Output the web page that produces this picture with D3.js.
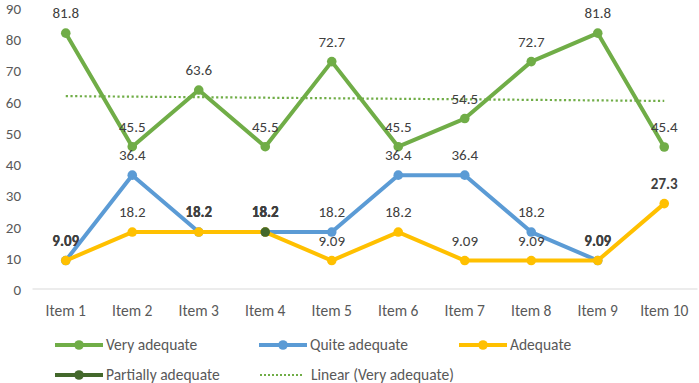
<!DOCTYPE html>
<html><head><meta charset="utf-8">
<script src="https://cdn.jsdelivr.net/npm/d3@7"></script>
<style>
html,body{margin:0;padding:0;background:#fff;}
svg{display:block;font-family:Carlito, Lato, sans-serif;}
</style></head>
<body><svg id="c" width="699" height="383"></svg>
<script>
const categories = ["Item 1","Item 2","Item 3","Item 4","Item 5","Item 6","Item 7","Item 8","Item 9","Item 10"];
const veryAdequate = [81.8,45.5,63.6,45.5,72.7,45.5,54.5,72.7,81.8,45.4];
const quiteAdequate = [9.09,36.4,18.2,18.2,18.2,36.4,36.4,18.2,9.09,null];
const adequate = [9.09,18.2,18.2,18.2,9.09,18.2,9.09,9.09,9.09,27.3];
const partiallyAdequate = [null,null,null,18.2,null,null,null,null,null,null];
const yTicks = [0,10,20,30,40,50,60,70,80,90];
const trendName = "Linear (Very adequate)";
const emphasized = [["Adequate",9]];

const colors = {"Very adequate":"#70AD47","Quite adequate":"#5B9BD5","Adequate":"#FFC000","Partially adequate":"#43682B"};
const series = [
  {name:"Very adequate", values:veryAdequate},
  {name:"Quite adequate", values:quiteAdequate},
  {name:"Adequate", values:adequate},
  {name:"Partially adequate", values:partiallyAdequate}
];

const svg = d3.select("#c");
const x = d3.scalePoint().domain(categories).range([32.5,697.5]).padding(0.5);
const y = d3.scaleLinear().domain([0,90]).range([289,7.5]);

// baseline axis
svg.append("line").attr("x1",32.5).attr("x2",697.5).attr("y1",y(0)).attr("y2",y(0))
  .attr("stroke","#d9d9d9").attr("stroke-width",1);

// y tick labels
svg.append("g").selectAll("text").data(yTicks).join("text")
  .attr("x",21).attr("y",d=>y(d)+1).attr("dy","0.35em").attr("text-anchor","end")
  .attr("font-size",15).attr("fill","#595959").text(d=>d);

// x labels
svg.append("g").selectAll("text").data(categories).join("text")
  .attr("x",d=>x(d)).attr("y",311).attr("dy","0.35em").attr("text-anchor","middle")
  .attr("font-size",15.5).attr("fill","#595959").text(d=>d);

// trendline (linear regression of Very adequate)
const xs = veryAdequate.map((v,i)=>i+1);
const mx = d3.mean(xs), my = d3.mean(veryAdequate);
const slope = d3.sum(xs.map((xv,i)=>(xv-mx)*(veryAdequate[i]-my))) / d3.sum(xs.map(xv=>(xv-mx)**2));
const icpt = my - slope*mx;
const line = d3.line().defined(d=>d.v!=null).x(d=>x(d.c)).y(d=>y(d.v));

// series lines + markers
series.forEach(s=>{
  const pts = categories.map((c,i)=>({c, v:s.values[i]}));
  svg.append("path").datum(pts).attr("d",line).attr("fill","none")
    .attr("stroke",colors[s.name]).attr("stroke-width",4).attr("stroke-linejoin","round");
  svg.append("g").selectAll("circle").data(pts.filter(d=>d.v!=null)).join("circle")
    .attr("cx",d=>x(d.c)).attr("cy",d=>y(d.v)).attr("r",4.8).attr("fill",colors[s.name]);
});

svg.append("line")
  .attr("x1",x(categories[0])).attr("x2",x(categories[categories.length-1]))
  .attr("y1",y(icpt+slope*1)).attr("y2",y(icpt+slope*categories.length))
  .attr("stroke","#70AD47").attr("stroke-width",2.2).attr("stroke-dasharray","2.2,2.5");

// data labels
const labels = [];
series.forEach(s=>{
  s.values.forEach((v,i)=>{ if(v!=null) labels.push({s:s.name,c:categories[i],v,i}); });
});
const lblG = svg.append("g");
labels.forEach(l=>{
  const dup = labels.filter(o=>o.c===l.c && o.v===l.v).length>1 ||
    emphasized.some(e=>e[0]===l.s && e[1]===l.i);
  lblG.append("text").attr("x",x(l.c)).attr("y",y(l.v)-20).attr("dy","0.35em")
    .attr("text-anchor","middle").attr("font-size",15).attr("fill","#404040")
    .attr("font-weight",dup?"bold":"normal")
    .text(l.v);
});

// legend
const legendItems = [
  {name:"Very adequate", x:55, y:345, type:"series"},
  {name:"Quite adequate", x:259, y:345, type:"series"},
  {name:"Adequate", x:459, y:345, type:"series"},
  {name:"Partially adequate", x:55, y:375, type:"series"},
  {name:trendName, x:260, y:375, type:"trend"}
];
const lg = svg.append("g");
legendItems.forEach(it=>{
  const g = lg.append("g").attr("transform",`translate(${it.x},${it.y})`);
  if(it.type==="series"){
    g.append("line").attr("x1",0).attr("x2",48).attr("stroke",colors[it.name]).attr("stroke-width",4);
    g.append("circle").attr("cx",24).attr("r",4.8).attr("fill",colors[it.name]);
  } else {
    g.append("line").attr("x1",0).attr("x2",44).attr("stroke","#70AD47").attr("stroke-width",2)
      .attr("stroke-dasharray","2,2");
  }
  g.append("text").attr("x",51).attr("dy","0.35em").attr("font-size",15.5).attr("fill","#595959").text(it.name);
});
</script></body></html>
